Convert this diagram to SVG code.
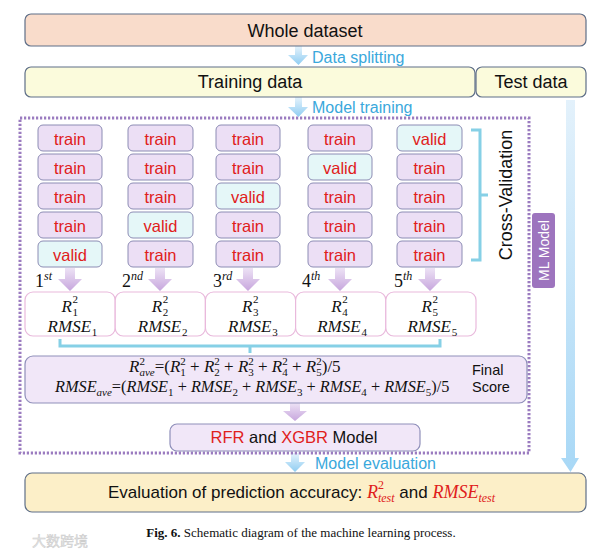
<svg xmlns="http://www.w3.org/2000/svg" width="599" height="553" viewBox="0 0 599 553">
<defs>
<linearGradient id="gBlue" x1="0" y1="0" x2="0" y2="1"><stop offset="0" stop-color="#e6f3fc"/><stop offset="1" stop-color="#8fcdf2"/></linearGradient>
<linearGradient id="gBar" x1="0" y1="0" x2="0" y2="1"><stop offset="0" stop-color="#e3f1fb"/><stop offset="1" stop-color="#a8d8f6"/></linearGradient>
<linearGradient id="gPur" x1="0" y1="0" x2="0" y2="1"><stop offset="0" stop-color="#ede2f5"/><stop offset="1" stop-color="#c7a6dd"/></linearGradient>
<style>
.box{stroke:#5f6f88;stroke-width:1.2}
.sans{font-family:"Liberation Sans",Arial,sans-serif}
.serif{font-family:"Liberation Serif","Times New Roman",serif}
.i{font-style:italic}
.red{fill:#e0201b}
.blue{fill:#3aa8dc}
.cell{stroke:#8c8cb4;stroke-width:1}
.tr{fill:#ecdff5}
.va{fill:#e5f7f8}
.ct{font-family:"Liberation Sans",Arial,sans-serif;font-size:16.5px;fill:#e0201b;text-anchor:middle}
.res{fill:#fff;stroke:#e9b9dc;stroke-width:1.2}
.lav{fill:#f1e7f8;stroke:#8f8fba;stroke-width:1.2}
.brk{fill:none;stroke:#86d0e6;stroke-width:3}
.m{font-family:"Liberation Serif","Times New Roman",serif;font-size:17px;fill:#111}
.s{font-size:11px;font-style:normal}
</style>
</defs>
<rect width="599" height="553" fill="#fff"/>

<g id="connectors">
<path d="M295,46 H302 V55 H308 L298.5,65 L288,55 H295 Z" fill="url(#gBlue)"/>
<path d="M295,97 H302 V107 H308 L298.5,117 L288,107 H295 Z" fill="url(#gBlue)"/>
<path d="M566,100 H575 V458 H579 L570.5,472 L561,458 H566 Z" fill="url(#gBar)"/>
<path d="M65,268 H75 V279 H82 L70,291 L58,279 H65 Z" fill="url(#gPur)"/>
<path d="M155,268 H165 V279 H172 L160,291 L148,279 H155 Z" fill="url(#gPur)"/>
<path d="M243,268 H253 V279 H260 L248,291 L236,279 H243 Z" fill="url(#gPur)"/>
<path d="M335,268 H345 V279 H352 L340,291 L328,279 H335 Z" fill="url(#gPur)"/>
<path d="M425,268 H435 V279 H442 L430,291 L418,279 H425 Z" fill="url(#gPur)"/>
<path d="M290,403 H300 V411 H307 L295,421 L283,411 H290 Z" fill="url(#gPur)"/>
<path d="M291,453 H299 V462 H305 L295,472 L285,462 H291 Z" fill="url(#gBlue)"/>
<path class="brk" d="M471,130 H480 V260 H471 M480,195 H488"/>
<path class="brk" d="M60,339 V346 H440 V339 M250,346 V353"/>
<path class="brk" d="M454,363 H459 V376 L463,379 L459,382 V395 H454" stroke-width="2.5"/>
<text class="sans blue" x="312" y="63" font-size="16">Data splitting</text>
<text class="sans blue" x="312" y="113" font-size="16">Model training</text>
<text class="sans blue" x="315" y="469" font-size="16">Model evaluation</text>
</g>

<g id="whole">
<rect class="box" x="25" y="14" width="561" height="32" rx="6" fill="#f9dccb"/>
<text class="sans" x="305" y="37" font-size="18" text-anchor="middle" fill="#111">Whole dataset</text>
</g>
<g id="training">
<rect class="box" x="25" y="67" width="450" height="30" rx="6" fill="#fbfbdc"/>
<text class="sans" x="250" y="88" font-size="18" text-anchor="middle" fill="#111">Training data</text>
</g>
<g id="test">
<rect class="box" x="476" y="67" width="110" height="30" rx="6" fill="#fbfbdc"/>
<text class="sans" x="531" y="88" font-size="18" text-anchor="middle" fill="#111">Test data</text>
</g>

<g id="ml-frame">
<rect x="20" y="118" width="509" height="335" fill="none" stroke="#9b7cc0" stroke-width="3" stroke-dasharray="2.2 1.8"/>
</g>
<g id="ml-label">
<rect x="532" y="213" width="23" height="75" rx="3" fill="#9d74be"/>
<text class="sans" transform="translate(548.5,250.5) rotate(-90)" font-size="14" fill="#fff" text-anchor="middle">ML Model</text>
</g>

<g id="fold1">
<rect class="cell tr" x="38" y="125" width="64" height="26" rx="5"/><text class="ct" x="70" y="145">train</text>
<rect class="cell tr" x="38" y="154" width="64" height="26" rx="5"/><text class="ct" x="70" y="174">train</text>
<rect class="cell tr" x="38" y="183" width="64" height="26" rx="5"/><text class="ct" x="70" y="203">train</text>
<rect class="cell tr" x="38" y="212" width="64" height="26" rx="5"/><text class="ct" x="70" y="232">train</text>
<rect class="cell va" x="38" y="241" width="64" height="26" rx="5"/><text class="ct" x="70" y="261">valid</text>
</g>
<g id="fold2">
<rect class="cell tr" x="128" y="125" width="65" height="26" rx="5"/><text class="ct" x="160.5" y="145">train</text>
<rect class="cell tr" x="128" y="154" width="65" height="26" rx="5"/><text class="ct" x="160.5" y="174">train</text>
<rect class="cell tr" x="128" y="183" width="65" height="26" rx="5"/><text class="ct" x="160.5" y="203">train</text>
<rect class="cell va" x="128" y="212" width="65" height="26" rx="5"/><text class="ct" x="160.5" y="232">valid</text>
<rect class="cell tr" x="128" y="241" width="65" height="26" rx="5"/><text class="ct" x="160.5" y="261">train</text>
</g>
<g id="fold3">
<rect class="cell tr" x="216" y="125" width="64" height="26" rx="5"/><text class="ct" x="248" y="145">train</text>
<rect class="cell tr" x="216" y="154" width="64" height="26" rx="5"/><text class="ct" x="248" y="174">train</text>
<rect class="cell va" x="216" y="183" width="64" height="26" rx="5"/><text class="ct" x="248" y="203">valid</text>
<rect class="cell tr" x="216" y="212" width="64" height="26" rx="5"/><text class="ct" x="248" y="232">train</text>
<rect class="cell tr" x="216" y="241" width="64" height="26" rx="5"/><text class="ct" x="248" y="261">train</text>
</g>
<g id="fold4">
<rect class="cell tr" x="308" y="125" width="64" height="26" rx="5"/><text class="ct" x="340" y="145">train</text>
<rect class="cell va" x="308" y="154" width="64" height="26" rx="5"/><text class="ct" x="340" y="174">valid</text>
<rect class="cell tr" x="308" y="183" width="64" height="26" rx="5"/><text class="ct" x="340" y="203">train</text>
<rect class="cell tr" x="308" y="212" width="64" height="26" rx="5"/><text class="ct" x="340" y="232">train</text>
<rect class="cell tr" x="308" y="241" width="64" height="26" rx="5"/><text class="ct" x="340" y="261">train</text>
</g>
<g id="fold5">
<rect class="cell va" x="397" y="125" width="65" height="26" rx="5"/><text class="ct" x="429.5" y="145">valid</text>
<rect class="cell tr" x="397" y="154" width="65" height="26" rx="5"/><text class="ct" x="429.5" y="174">train</text>
<rect class="cell tr" x="397" y="183" width="65" height="26" rx="5"/><text class="ct" x="429.5" y="203">train</text>
<rect class="cell tr" x="397" y="212" width="65" height="26" rx="5"/><text class="ct" x="429.5" y="232">train</text>
<rect class="cell tr" x="397" y="241" width="65" height="26" rx="5"/><text class="ct" x="429.5" y="261">train</text>
</g>

<g id="cv-label">
<text class="sans" transform="translate(511.5,195) rotate(-90)" font-size="18" fill="#111" text-anchor="middle">Cross-Validation</text>
</g>

<g id="ordinals" class="serif" font-size="18" fill="#111">
<text x="35" y="287">1<tspan class="i" font-size="12" dy="-7">st</tspan></text>
<text x="122" y="287">2<tspan class="i" font-size="12" dy="-7">nd</tspan></text>
<text x="213" y="287">3<tspan class="i" font-size="12" dy="-7">rd</tspan></text>
<text x="302" y="287">4<tspan class="i" font-size="12" dy="-7">th</tspan></text>
<text x="394" y="287">5<tspan class="i" font-size="12" dy="-7">th</tspan></text>
</g>

<g id="result1">
<rect class="res" x="25" y="292" width="90.2" height="44" rx="8"/>
<text class="m i" x="61.6" y="312">R<tspan class="s" dx="0.6" dy="-9">2</tspan><tspan class="s" dx="-5.5" dy="13">1</tspan></text>
<text class="m i" x="47.6" y="332">RMSE<tspan class="s" dx="0.8" dy="4">1</tspan></text>
</g>
<g id="result2">
<rect class="res" x="115.2" y="292" width="90.2" height="44" rx="8"/>
<text class="m i" x="151.8" y="312">R<tspan class="s" dx="0.6" dy="-9">2</tspan><tspan class="s" dx="-5.5" dy="13">2</tspan></text>
<text class="m i" x="137.8" y="332">RMSE<tspan class="s" dx="0.8" dy="4">2</tspan></text>
</g>
<g id="result3">
<rect class="res" x="205.4" y="292" width="90.2" height="44" rx="8"/>
<text class="m i" x="242" y="312">R<tspan class="s" dx="0.6" dy="-9">2</tspan><tspan class="s" dx="-5.5" dy="13">3</tspan></text>
<text class="m i" x="228" y="332">RMSE<tspan class="s" dx="0.8" dy="4">3</tspan></text>
</g>
<g id="result4">
<rect class="res" x="295.6" y="292" width="90.2" height="44" rx="8"/>
<text class="m i" x="331.2" y="312">R<tspan class="s" dx="0.6" dy="-9">2</tspan><tspan class="s" dx="-5.5" dy="13">4</tspan></text>
<text class="m i" x="317.2" y="332">RMSE<tspan class="s" dx="0.8" dy="4">4</tspan></text>
</g>
<g id="result5">
<rect class="res" x="385.8" y="292" width="90.2" height="44" rx="8"/>
<text class="m i" x="421.4" y="312">R<tspan class="s" dx="0.6" dy="-9">2</tspan><tspan class="s" dx="-5.5" dy="13">5</tspan></text>
<text class="m i" x="407.4" y="332">RMSE<tspan class="s" dx="0.8" dy="4">5</tspan></text>
</g>

<g id="final-score">
<rect class="lav" x="25" y="356" width="502" height="47" rx="8"/>
<text class="m" x="129" y="372"><tspan class="i">R</tspan><tspan dy="-7" font-size="11">2</tspan><tspan class="i" dx="-5.5" dy="11" font-size="11">ave</tspan><tspan dy="-4">=(</tspan><tspan class="i">R</tspan><tspan dy="-7" font-size="11">2</tspan><tspan dx="-5.5" dy="11" font-size="11">1</tspan><tspan dy="-4"> + </tspan><tspan class="i">R</tspan><tspan dy="-7" font-size="11">2</tspan><tspan dx="-5.5" dy="11" font-size="11">2</tspan><tspan dy="-4"> + </tspan><tspan class="i">R</tspan><tspan dy="-7" font-size="11">2</tspan><tspan dx="-5.5" dy="11" font-size="11">3</tspan><tspan dy="-4"> + </tspan><tspan class="i">R</tspan><tspan dy="-7" font-size="11">2</tspan><tspan dx="-5.5" dy="11" font-size="11">4</tspan><tspan dy="-4"> + </tspan><tspan class="i">R</tspan><tspan dy="-7" font-size="11">2</tspan><tspan dx="-5.5" dy="11" font-size="11">5</tspan><tspan dy="-4">)/5</tspan></text>
<text class="m" x="55" y="392" style="font-size:16.3px"><tspan class="i">RMSE</tspan><tspan class="i" dy="4" font-size="11">ave</tspan><tspan dy="-4">=(</tspan><tspan class="i">RMSE</tspan><tspan dy="4" font-size="11">1</tspan><tspan dy="-4"> + </tspan><tspan class="i">RMSE</tspan><tspan dy="4" font-size="11">2</tspan><tspan dy="-4"> + </tspan><tspan class="i">RMSE</tspan><tspan dy="4" font-size="11">3</tspan><tspan dy="-4"> + </tspan><tspan class="i">RMSE</tspan><tspan dy="4" font-size="11">4</tspan><tspan dy="-4"> + </tspan><tspan class="i">RMSE</tspan><tspan dy="4" font-size="11">5</tspan><tspan dy="-4">)/5</tspan></text>
<text class="sans" x="472" y="375" font-size="14.5" fill="#111">Final</text>
<text class="sans" x="472" y="392" font-size="14.5" fill="#111">Score</text>
</g>

<g id="model">
<rect class="lav" x="170" y="424" width="250" height="27" rx="7"/>
<text class="sans" x="294" y="443" font-size="16.5" text-anchor="middle" fill="#111"><tspan class="red">RFR</tspan> and <tspan class="red">XGBR</tspan> Model</text>
</g>

<g id="evaluation">
<rect class="box" x="25" y="473" width="561" height="39" rx="7" fill="#fcefc8"/>
<text class="sans" x="108" y="498" font-size="17" fill="#111">Evaluation of prediction accuracy: <tspan class="serif i red" font-size="18">R</tspan><tspan class="serif red" dy="-9" font-size="12">2</tspan><tspan class="serif i red" dx="-6" dy="13" font-size="12">test</tspan><tspan dy="-4"> and </tspan><tspan class="serif i red" font-size="18">RMSE</tspan><tspan class="serif i red" dy="4" font-size="12">test</tspan></text>
</g>

<g id="caption">
<text class="serif" x="301" y="537" font-size="13" text-anchor="middle" fill="#111"><tspan font-weight="bold">Fig. 6.</tspan> Schematic diagram of the machine learning process.</text>
<text x="32" y="546" font-family="'Noto Sans CJK SC',sans-serif" font-size="14" fill="#e4e4e4" stroke="#c8c8c8" stroke-width="0.4">大数跨境</text>
</g>
</svg>
